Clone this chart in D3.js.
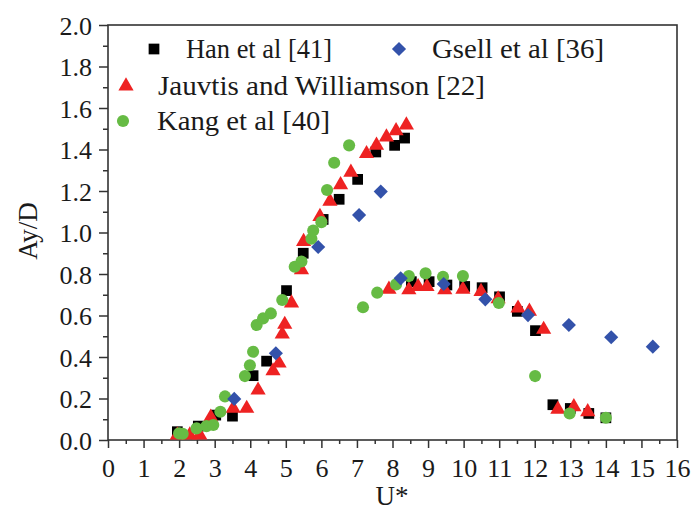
<!DOCTYPE html>
<html><head><meta charset="utf-8">
<script src="https://cdn.jsdelivr.net/npm/d3@7"></script>
<style>body{margin:0;background:#fff}svg{display:block}text{font-family:"Liberation Serif","Times New Roman",serif}</style>
</head><body><svg id="c" width="696" height="513"></svg>
<script>
const hanU = [1.95,2.54,3.03,3.5,4.08,4.46,5.02,5.49,6.05,6.5,7.02,7.53,8.06,8.34,8.53,9.03,9.53,10.03,10.52,11.01,11.51,12.02,12.51,13.0,13.52,14.0];
const hanA = [0.04,0.067,0.12,0.115,0.31,0.38,0.72,0.90,1.063,1.16,1.256,1.388,1.42,1.455,0.763,0.763,0.747,0.74,0.734,0.69,0.62,0.527,0.17,0.152,0.128,0.107];

const jwU = [1.95,2.3,2.58,2.89,3.52,3.9,4.22,4.64,4.81,4.9,4.97,5.16,5.44,5.5,5.96,6.24,6.54,6.83,7.27,7.55,7.83,8.1,8.39,7.9,8.46,8.72,8.97,9.47,9.98,10.49,10.97,11.53,11.85,12.25,12.65,13.1,13.49];
const jwA = [0.024,0.024,0.024,0.11,0.152,0.152,0.24,0.333,0.37,0.51,0.557,0.66,0.82,0.956,1.077,1.15,1.23,1.29,1.38,1.42,1.46,1.49,1.518,0.726,0.723,0.739,0.739,0.723,0.726,0.715,0.68,0.635,0.62,0.533,0.148,0.16,0.136];

const kangU = [2.0,2.1,2.49,2.77,2.96,3.16,3.29,3.85,3.99,4.08,4.18,4.36,4.58,4.9,5.25,5.44,5.72,5.77,6.0,6.16,6.36,6.78,7.17,7.57,8.1,8.46,8.93,9.42,9.98,10.99,12.01,12.98,14.0];
const kangA = [0.032,0.03,0.056,0.067,0.072,0.136,0.21,0.308,0.36,0.425,0.554,0.586,0.61,0.675,0.835,0.86,0.97,1.01,1.05,1.205,1.336,1.42,0.64,0.71,0.75,0.79,0.803,0.787,0.79,0.66,0.308,0.128,0.107];

const gsellU = [3.55,4.72,5.91,7.06,7.67,8.23,9.44,10.61,11.81,12.96,14.15,15.32];
const gsellA = [0.198,0.418,0.93,1.084,1.197,0.779,0.752,0.678,0.602,0.554,0.495,0.45];

const xTicks = d3.range(0,17,1);
const yTicks = [0,0.2,0.4,0.6,0.8,1.0,1.2,1.4,1.6,1.8,2.0];
const seriesNames = ["Han et al [41]","Gsell et al [36]","Jauvtis and Williamson [22]","Kang et al [40]"];

const svg = d3.select("#c");
const L=108,R=677,T=25,B=440;
const x = d3.scaleLinear().domain([0,16]).range([L,R]);
const y = d3.scaleLinear().domain([0,2]).range([B,T]);
const font = '"Liberation Serif","Times New Roman",serif';
const axCol = "#333";
const txtCol = "#1a1a1a";

// frame
svg.append("rect").attr("x",L).attr("y",T).attr("width",R-L).attr("height",B-T)
  .attr("fill","none").attr("stroke",axCol).attr("stroke-width",1.6);

// x axis
const xAxis = d3.axisBottom(x).tickValues(xTicks).tickSize(8).tickFormat(d3.format("d"));
const gx = svg.append("g").attr("transform",`translate(0,${B})`).call(xAxis).attr("font-family",null).attr("font-size",null);
gx.select(".domain").remove();
gx.selectAll("line").attr("stroke",axCol).attr("stroke-width",1.5);
gx.selectAll("text").style("font-family",font).style("font-size","26px").attr("fill",txtCol).attr("dy",null).attr("y",37);
const gxm = svg.append("g").attr("transform",`translate(0,${B})`)
  .call(d3.axisBottom(x).tickValues(d3.range(0.5,16,1)).tickSize(4).tickFormat(""));
gxm.select(".domain").remove();
gxm.selectAll("line").attr("stroke",axCol).attr("stroke-width",1.5);

// y axis
const yAxis = d3.axisLeft(y).tickValues(yTicks).tickSize(9).tickFormat(d3.format(".1f"));
const gy = svg.append("g").attr("transform",`translate(${L},0)`).call(yAxis).attr("font-family",null).attr("font-size",null);
gy.select(".domain").remove();
gy.selectAll("line").attr("stroke",axCol).attr("stroke-width",1.5);
gy.selectAll("text").style("font-family",font).style("font-size","26px").attr("fill",txtCol).attr("x",-16).attr("dy","0.36em");
const gym = svg.append("g").attr("transform",`translate(${L},0)`)
  .call(d3.axisLeft(y).tickValues(d3.range(0.1,2,0.2)).tickSize(5).tickFormat(""));
gym.select(".domain").remove();
gym.selectAll("line").attr("stroke",axCol).attr("stroke-width",1.5);

// titles
svg.append("text").attr("x",392).attr("y",505).attr("text-anchor","middle")
  .style("font-family",font).style("font-size","27px").attr("fill",txtCol).text("U*");
svg.append("text").attr("transform",`translate(37,${231}) rotate(-90)`).attr("text-anchor","middle")
  .style("font-family",font).style("font-size","27px").attr("fill",txtCol).text("Ay/D");

const cRed="#ee2222", cGreen="#66bb44", cBlue="#3352aa", cBlack="#000";
const sym = {
  sq: d3.symbol().type(d3.symbolSquare).size(115),
  tri: d3.symbol().type(d3.symbolTriangle).size(100),
  cir: d3.symbol().type(d3.symbolCircle).size(115),
  dia: d3.symbol().type(d3.symbolSquare).size(100)
};
function draw(U,A,s,col,rot){
  const data = U.map((u,i)=>[u,A[i]]);
  svg.append("g").selectAll("path").data(data).join("path")
    .attr("d",s).attr("fill",col)
    .attr("transform",d=>`translate(${x(d[0])},${y(d[1])})${rot?" rotate(45)":""}`);
}
draw(hanU,hanA,sym.sq,cBlack);
draw(jwU,jwA,sym.tri,cRed);
draw(kangU,kangA,sym.cir,cGreen);
draw(gsellU,gsellA,sym.dia,cBlue,true);

// legend
const leg = [
  {name:seriesNames[0],s:sym.sq,c:cBlack,mx:154,tx:186,y:58,my:49,rot:false,w:146},
  {name:seriesNames[1],s:sym.dia,c:cBlue,mx:399,tx:432,y:58,my:49,rot:true,w:172},
  {name:seriesNames[2],s:sym.tri,c:cRed,mx:126,tx:158,y:95,my:86,rot:false,w:327},
  {name:seriesNames[3],s:sym.cir,c:cGreen,mx:123,tx:157,y:130,my:121,rot:false,w:173}
];
leg.forEach(l=>{
  svg.append("path").attr("d",l.s).attr("fill",l.c).attr("transform",`translate(${l.mx},${l.my})${l.rot?" rotate(45)":""}`);
  svg.append("text").attr("x",l.tx).attr("y",l.y)
    .attr("textLength",l.w).attr("lengthAdjust","spacingAndGlyphs")
    .style("font-family",font).style("font-size","27px").attr("fill",txtCol).text(l.name);
});
</script></body></html>
